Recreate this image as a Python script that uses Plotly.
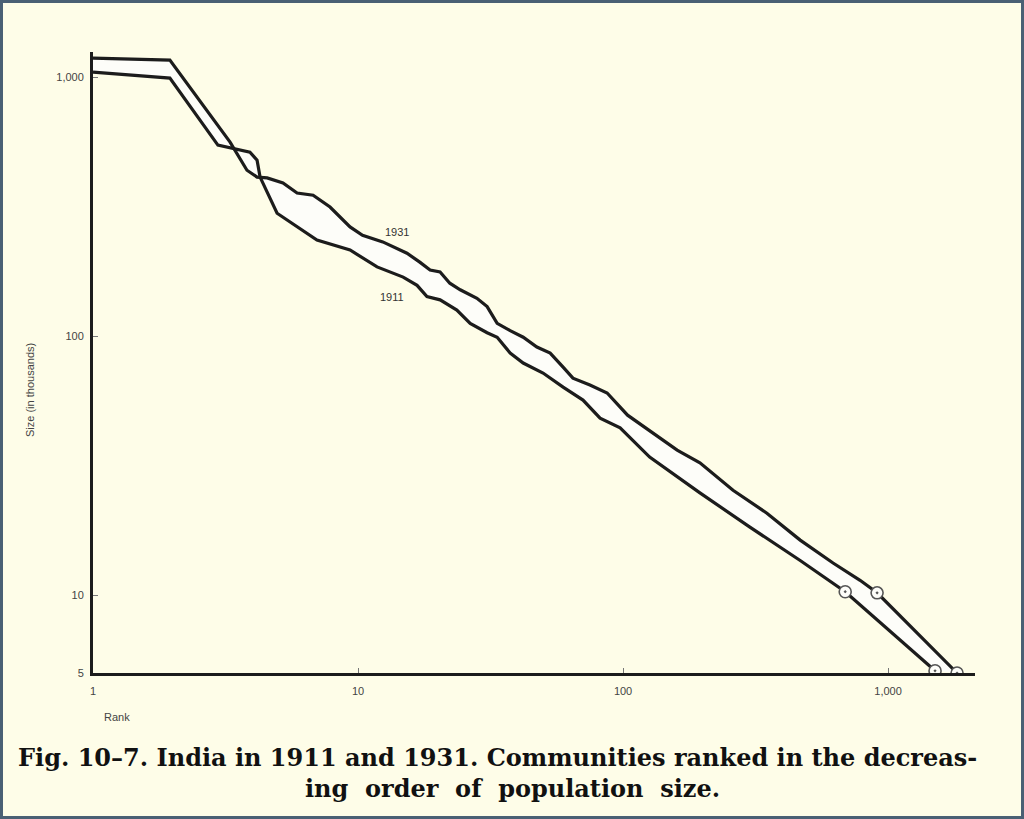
import plotly.graph_objects as go

# Rank-size data (size in thousands)
rank_1931 = [1, 1.95, 3.29, 3.53, 3.81, 4.16, 4.54, 5.21, 5.89, 6.77, 7.84, 9.33, 10.4, 12.4,
             15.3, 17.1, 18.7, 20.4, 22.2, 24.3, 28.1, 30.7, 33.5, 37.5, 42.0, 47.3, 53.1,
             59.4, 64.7, 75.0, 87.1, 104, 160, 195, 260, 349, 466, 620, 784, 909, 1821]
size_1931 = [1185, 1163, 561, 500, 437, 411, 408, 390, 357, 350, 315, 264, 245, 231,
             209, 193, 180, 177, 160, 151, 140, 130, 112, 105, 99, 90.7, 86,
             75.9, 68.8, 64.7, 60.3, 49.5, 36.3, 32.4, 25.4, 20.7, 16.3, 13.3, 11.4, 10.2, 5.0]

rank_1911 = [1, 1.95, 2.96, 3.29, 3.91, 4.16, 4.27, 4.95, 5.89, 7.0, 9.33, 11.8, 14.8, 16.7,
             18.2, 20.4, 23.6, 26.5, 30.7, 33.5, 37.5, 42.0, 49.9, 59.4, 70.6, 81.9, 97.5,
             126, 195, 301, 466, 689, 1504]
size_1911 = [1045, 991, 546, 532, 513, 478, 411, 298, 264, 235, 215, 185, 169, 157,
             142, 138, 126, 112, 103, 99, 86, 78.7, 72, 63.5, 56.6, 48.2, 44.2,
             34.1, 24.8, 18.3, 13.6, 10.3, 5.1]

# Circled points (10,000 and 5,000 thresholds)
mark_rank = [689, 909, 1504, 1821]
mark_size = [10.3, 10.2, 5.1, 5.0]

x_tickvals = [1, 10, 100, 1000]
x_ticktext = ["1", "10", "100", "1,000"]
y_tickvals = [5, 10, 100, 1000]
y_ticktext = ["5", "10", "100", "1,000"]

BG = "#fefde8"
INK = "#1c1c1c"

fig = go.Figure()
fig.add_trace(go.Scatter(x=rank_1911, y=size_1911, mode="lines",
                         line=dict(color=INK, width=3.2), showlegend=False))
fig.add_trace(go.Scatter(x=rank_1931, y=size_1931, mode="lines",
                         line=dict(color=INK, width=3.2), fill="tonexty",
                         fillcolor="#fdfdf9", showlegend=False))
fig.add_trace(go.Scatter(x=mark_rank, y=mark_size, mode="markers",
                         marker=dict(symbol="circle-dot", size=12, color="#fdfdf9",
                                     line=dict(color="#555555", width=1.6)),
                         showlegend=False))

W, H = 1024, 819
L, R, T, B = 93, 49, 52, 146
pw, ph = W - L - R, H - T - B

fig.update_layout(
    width=W, height=H,
    margin=dict(l=L, r=R, t=T, b=B),
    paper_bgcolor=BG, plot_bgcolor=BG,
    font=dict(family="Liberation Sans", color="#444444", size=11),
    xaxis=dict(type="log", range=[0, 3.328], showgrid=False, zeroline=False,
               showline=True, linecolor=INK, linewidth=3,
               tickvals=x_tickvals, ticktext=x_ticktext,
               ticks="inside", ticklen=5, tickcolor="#777777", tickwidth=1,
               ticklabelstandoff=6, tickfont=dict(size=11, color="#444444")),
    yaxis=dict(type="log", range=[0.699, 3.097], showgrid=False, zeroline=False,
               showline=True, linecolor=INK, linewidth=3,
               tickvals=y_tickvals, ticktext=y_ticktext,
               ticks="inside", ticklen=5, tickcolor="#777777", tickwidth=1,
               ticklabelstandoff=4, tickfont=dict(size=11, color="#444444")),
)

# Series labels
fig.add_annotation(x=1.147, y=2.402, xref="x", yref="y", text="1931", showarrow=False,
                   font=dict(size=11, color="#333333"))
fig.add_annotation(x=1.128, y=2.150, xref="x", yref="y", text="1911", showarrow=False,
                   font=dict(size=11, color="#333333"))

# Axis titles
fig.add_annotation(x=(30 - L) / pw, y=(H - B - 390) / ph, xref="paper", yref="paper",
                   xanchor="center", yanchor="middle",
                   text="Size (in thousands)", textangle=-90, showarrow=False,
                   font=dict(size=11, color="#444444"))
fig.add_annotation(x=(117 - L) / pw, y=(H - B - 717) / ph, xref="paper", yref="paper",
                   xanchor="center", yanchor="middle",
                   text="Rank", showarrow=False, font=dict(size=11, color="#444444"))

# Caption
fig.add_annotation(x=(497 - L) / pw, y=(H - B - 757) / ph, xref="paper", yref="paper",
                   xanchor="center", yanchor="middle",
                   text="<b>Fig. 10–7. India in 1911 and 1931. Communities ranked in the decreas-</b>",
                   showarrow=False, font=dict(family="DejaVu Serif", size=24, color="#111111"))
fig.add_annotation(x=(512 - L) / pw, y=(H - B - 788) / ph, xref="paper", yref="paper",
                   xanchor="center", yanchor="middle",
                   text="<b>ing&nbsp; order&nbsp; of&nbsp; population&nbsp; size.</b>",
                   showarrow=False, font=dict(family="DejaVu Serif", size=24, color="#111111"))

# Frame around the scanned page
fig.add_shape(type="rect", xref="paper", yref="paper",
              x0=-L / pw, x1=1 + R / pw, y0=-B / ph, y1=1 + T / ph,
              line=dict(color="#4a6074", width=6), fillcolor="rgba(0,0,0,0)")

fig.write_html("out.html", config={"displayModeBar": False},
               post_script="document.body.style.margin='0';document.body.style.overflow='hidden';")
